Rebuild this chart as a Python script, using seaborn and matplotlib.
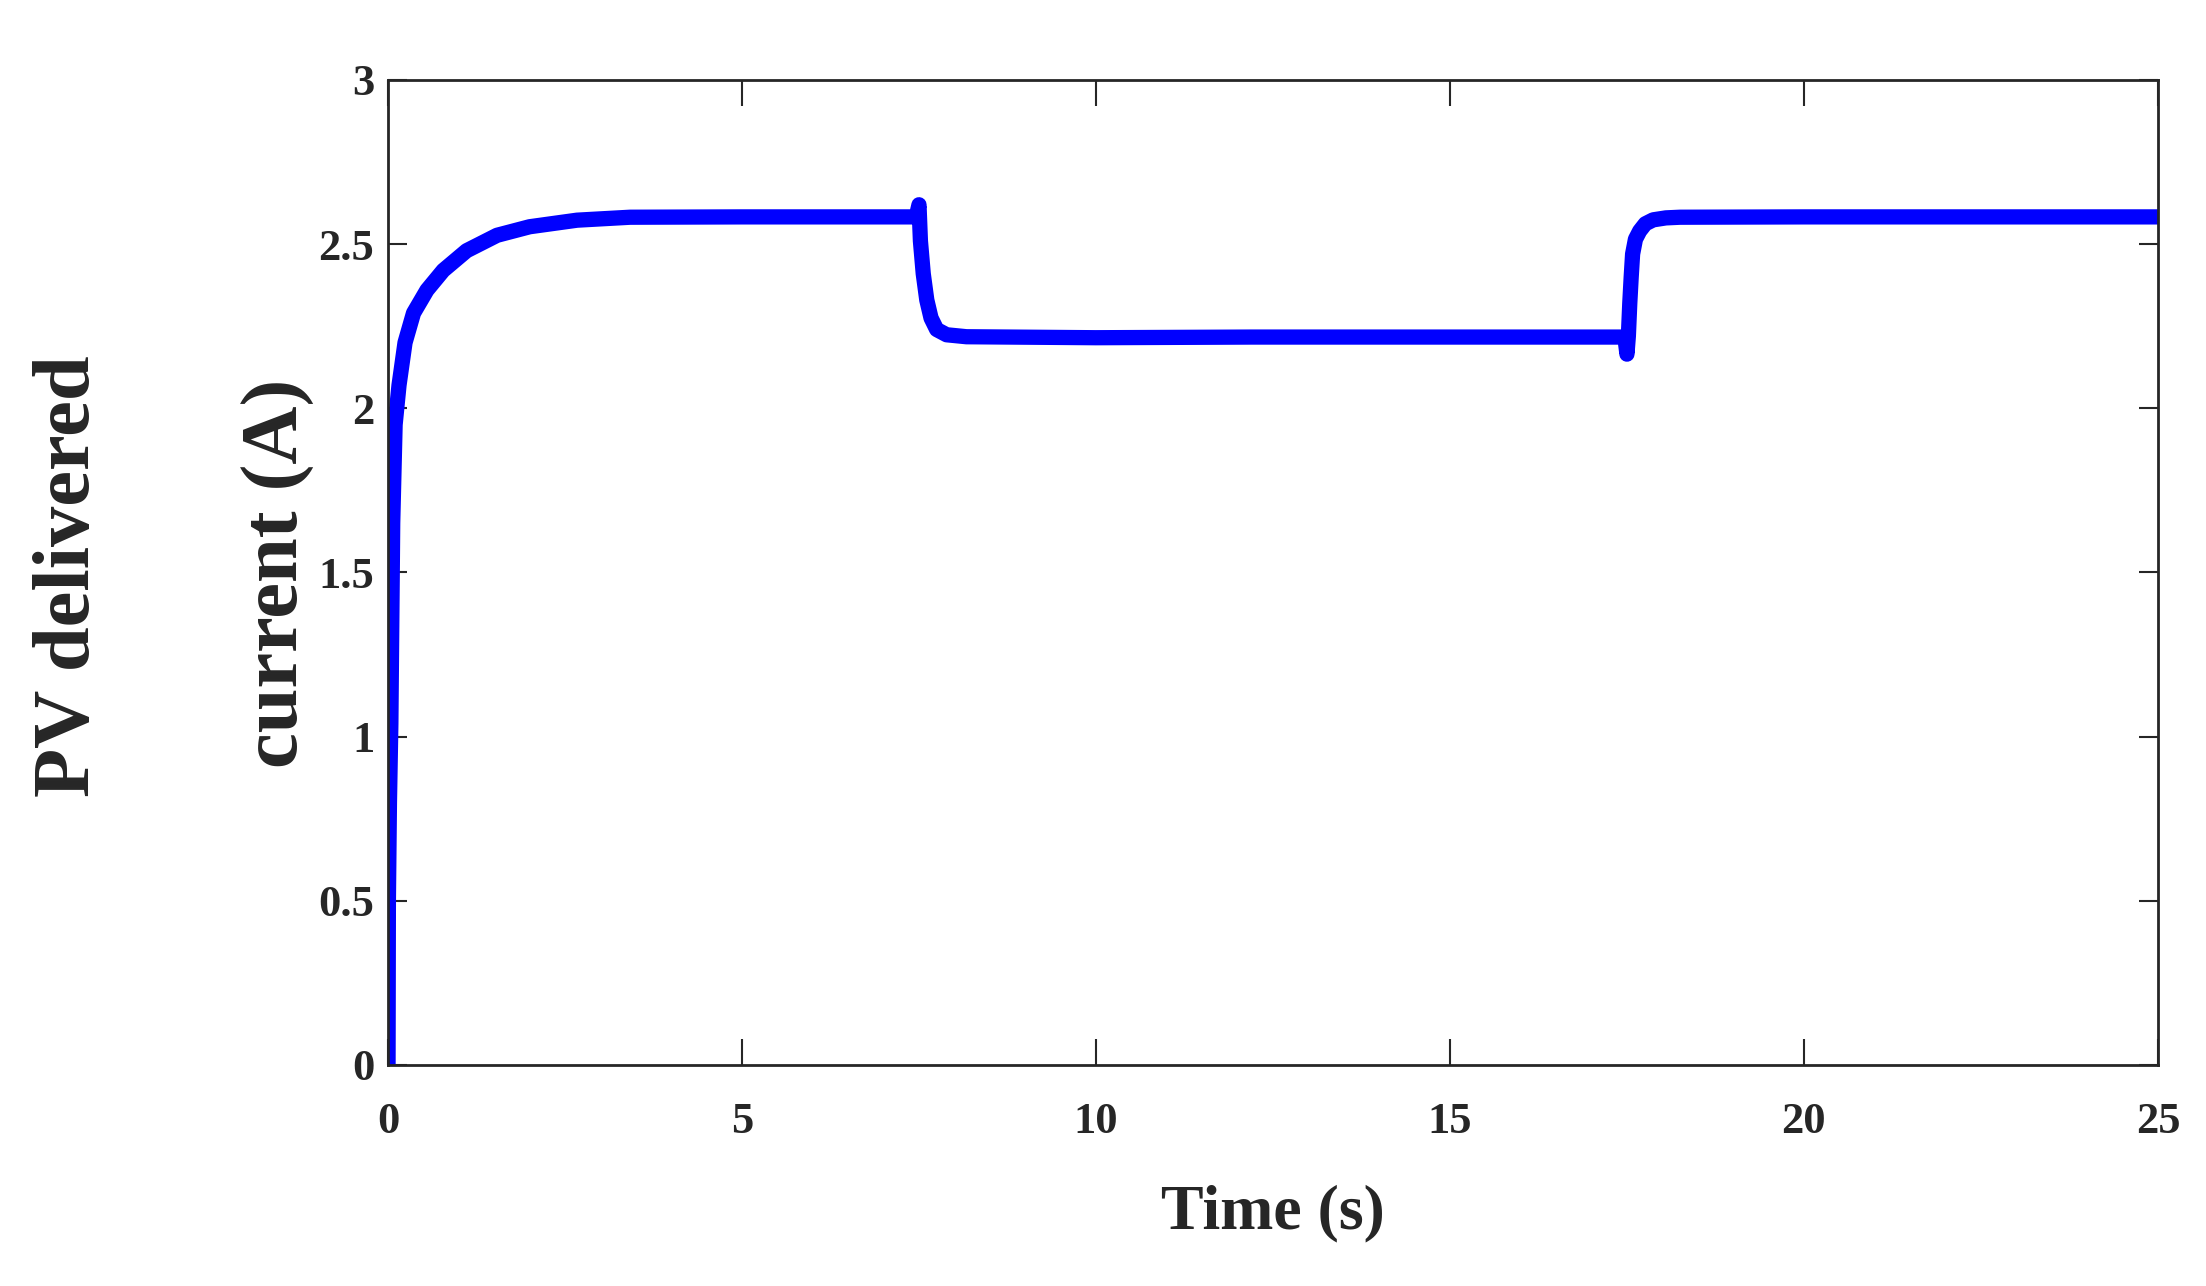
import matplotlib
matplotlib.use('Agg')
import matplotlib.pyplot as plt
import seaborn as sns
import pandas as pd

# PV current
time_s = [0, 0.005, 0.02, 0.04, 0.066, 0.1, 0.155, 0.24, 0.36, 0.55, 0.78, 1.11, 1.54, 2.0,
          2.67, 3.42, 5.0,
          7.46, 7.50, 7.52, 7.56, 7.61, 7.67, 7.75, 7.89, 8.17, 10.0, 12.2, 15.0,
          17.47, 17.50, 17.52, 17.54, 17.56, 17.58, 17.62, 17.68, 17.76, 17.87, 18.05, 18.25,
          20.0, 25.0]
current_a = [0, 0.5, 0.8, 1.04, 1.65, 1.95, 2.07, 2.2, 2.29, 2.36, 2.42, 2.48, 2.527, 2.553,
             2.573, 2.582, 2.583,
             2.583, 2.62, 2.51, 2.41, 2.33, 2.275, 2.24, 2.224, 2.218, 2.215, 2.217, 2.217,
             2.217, 2.165, 2.22, 2.32, 2.40, 2.47, 2.515, 2.54, 2.562, 2.574, 2.58, 2.582,
             2.583, 2.583]

x_ticks = [0, 5, 10, 15, 20, 25]
y_ticks = [0, 0.5, 1, 1.5, 2, 2.5, 3]
y_tick_labels = ['0', '0.5', '1', '1.5', '2', '2.5', '3']

data = pd.DataFrame({'t': time_s, 'i': current_a})

sns.set_style('white')
plt.rcParams['font.family'] = ['Liberation Serif', 'DejaVu Serif']
plt.rcParams['font.weight'] = 'bold'
text_color = '#262626'

fig = plt.figure(figsize=(22.06, 12.86), dpi=100)
ax = fig.add_axes([0.1759, 0.1719, 0.8023, 0.7659])

sns.lineplot(data=data, x='t', y='i', sort=False, estimator=None, color='#0000FF',
             lw=11, solid_capstyle='round', solid_joinstyle='round', ax=ax)

ax.set_xlim(0, 25)
ax.set_ylim(0, 3)
ax.set_xticks(x_ticks)
ax.set_xticklabels([str(v) for v in x_ticks])
ax.set_yticks(y_ticks)
ax.set_yticklabels(y_tick_labels)

for side in ['top', 'bottom', 'left', 'right']:
    ax.spines[side].set_visible(True)
    ax.spines[side].set_color(text_color)
    ax.spines[side].set_linewidth(2)

ax.tick_params(axis='x', direction='in', length=19, width=1.5, color=text_color,
               top=True, bottom=True, pad=27, labelsize=32, labelcolor=text_color)
ax.tick_params(axis='y', direction='in', length=14, width=1.5, color=text_color,
               left=True, right=True, pad=10, labelsize=32, labelcolor=text_color)
for lab in ax.get_xticklabels() + ax.get_yticklabels():
    lab.set_fontweight('bold')

ax.set_xlabel('Time (s)', fontsize=46, fontweight='bold', color=text_color, labelpad=30)
ax.set_ylabel('')

fig.text(70 / 2206, 1 - 576 / 1286, 'PV delivered', rotation=90, fontsize=58,
         fontweight='bold', color=text_color, ha='center', va='center')
fig.text(278 / 2206, 1 - 573 / 1286, 'current (A)', rotation=90, fontsize=58,
         fontweight='bold', color=text_color, ha='center', va='center')

plt.savefig('out.png', dpi=100)
